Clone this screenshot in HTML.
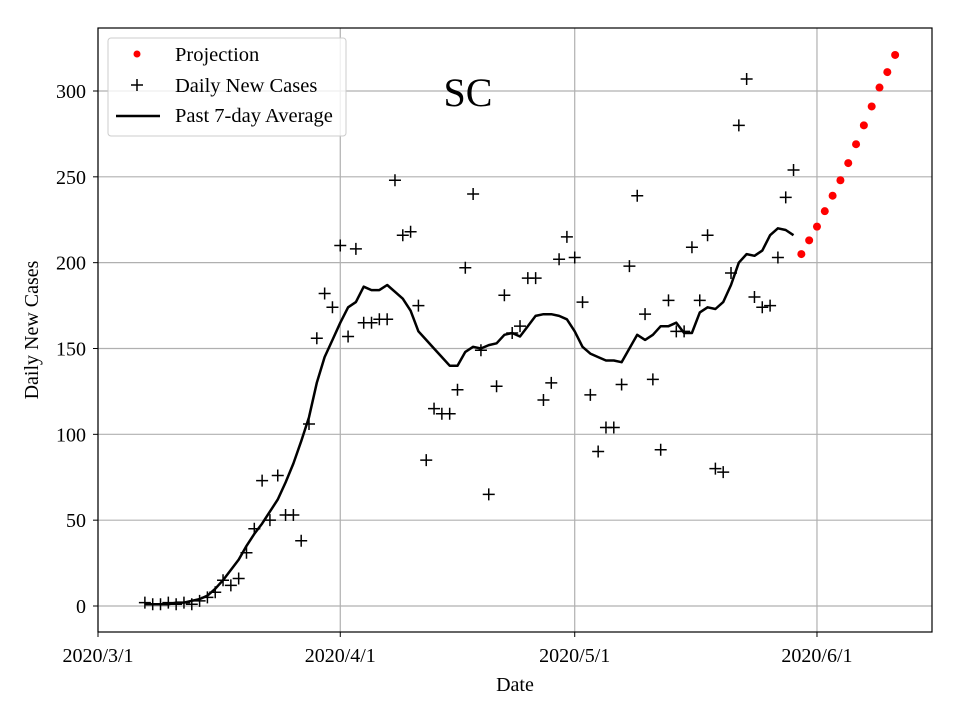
<!DOCTYPE html>
<html><head><meta charset="utf-8"><style>
html,body{margin:0;padding:0;background:#fff;}
svg{display:block;font-family:"Liberation Serif",serif;}
</style></head><body>
<svg id="chart" width="960" height="720" viewBox="0 0 960 720" xmlns="http://www.w3.org/2000/svg">
<rect x="0" y="0" width="960" height="720" fill="#fff"/>
<g id="grid"></g>
<g id="marks"></g>
<rect x="98" y="28" width="834" height="604" fill="none" stroke="#000" stroke-width="1.2"/>
<g id="axes"></g>
<text x="468" y="106" font-size="40" text-anchor="middle">SC</text>
<text x="515" y="691" font-size="20" text-anchor="middle">Date</text>
<text x="38" y="330" font-size="20" text-anchor="middle" transform="rotate(-90 38 330)">Daily New Cases</text>
<g>
<rect x="108" y="38" width="238" height="98" rx="3" fill="#fff" fill-opacity="0.8" stroke="#ccc" stroke-width="1"/>
<circle cx="137" cy="54" r="3.5" fill="#ff0000"/>
<text x="175" y="61" font-size="20.5">Projection</text>
<path d="M131 85H143M137 79V91" stroke="#000" stroke-width="1.5"/>
<text x="175" y="92" font-size="20.5">Daily New Cases</text>
<path d="M116 116H160" stroke="#000" stroke-width="2.5"/>
<text x="175" y="122" font-size="20.5">Past 7-day Average</text>
</g>
</svg>
<script>
const dailyStartDay = 6;   // days after 2020/3/1
const dailyCases = [2,1,1,2,1,2,1,3,5,8,15,12,16,31,45,73,50,76,53,53,38,106,156,182,174,210,157,208,165,165,167,167,248,216,218,175,85,115,112,112,126,197,240,149,65,128,181,159,163,191,191,120,130,202,215,203,177,123,90,104,104,129,198,239,170,132,91,178,160,160,209,178,216,80,78,194,280,307,180,174,175,203,238,254];
const avg7 = [1,1,1,1,2,2,3,4,6,10,15,21,27,35,42,48,55,62,72,83,96,110,130,145,155,165,174,177,186,184,184,187,183,179,172,160,155,150,145,140,140,148,151,150,152,153,158,159,157,163,169,170,170,169,167,160,151,147,145,143,143,142,150,158,155,158,163,163,165,159,159,171,174,173,177,187,200,205,204,207,216,220,219,216];
const projStartDay = 90;
const projection = [205,213,221,230,239,248,258,269,280,291,302,311,321];
const yTicks = [0,50,100,150,200,250,300];
const xTickDays = [0,31,61,92];
const xTickLabels = ["2020/3/1","2020/4/1","2020/5/1","2020/6/1"];

const NS="http://www.w3.org/2000/svg";
const xs = d => 98 + d*7.815;
const ys = v => 606 - v*1.7167;
function mk(tag, attrs, parent){const e=document.createElementNS(NS,tag);for(const k in attrs)e.setAttribute(k,attrs[k]);parent.appendChild(e);return e;}
const grid=document.getElementById('grid'), marks=document.getElementById('marks'), axes=document.getElementById('axes');

yTicks.forEach(v=>{
  const g=mk('line',{x1:98,x2:932,y1:ys(v),y2:ys(v),stroke:'#b0b0b0','stroke-width':1.2},grid);
  
  
  const t=mk('line',{x1:93,x2:98,y1:ys(v),y2:ys(v),stroke:'#000','stroke-width':1},axes);
  
  
  const l=mk('text',{x:86,y:ys(v)+7,'font-size':20,'text-anchor':'end'},axes);
  l.textContent=v;
  
  
});
xTickDays.forEach((d,i)=>{
  const g=mk('line',{x1:xs(d),x2:xs(d),y1:28,y2:632,stroke:'#b0b0b0','stroke-width':1.2},grid);
  
  
  const t=mk('line',{x1:xs(d),x2:xs(d),y1:632,y2:637,stroke:'#000','stroke-width':1},axes);
  
  
  const l=mk('text',{x:xs(d),y:662,'font-size':20,'text-anchor':'middle'},axes);
  l.textContent=xTickLabels[i];
  
  
});

const pts=avg7.map((v,i)=>xs(dailyStartDay+i).toFixed(1)+','+ys(v).toFixed(1)).join(' ');
const line=mk('polyline',{points:pts,fill:'none',stroke:'#000','stroke-width':2.5,'stroke-linejoin':'round'},marks);



dailyCases.forEach((v,i)=>{
  const x=xs(dailyStartDay+i), y=ys(v);
  const p=mk('path',{d:`M${x-6} ${y}H${x+6}M${x} ${y-6}V${y+6}`,stroke:'#000','stroke-width':1.5},marks);
  
  
});
projection.forEach((v,i)=>{
  const c=mk('circle',{cx:xs(projStartDay+i),cy:ys(v),r:4,fill:'#ff0000'},marks);
  
  
});
</script>
</body></html>
